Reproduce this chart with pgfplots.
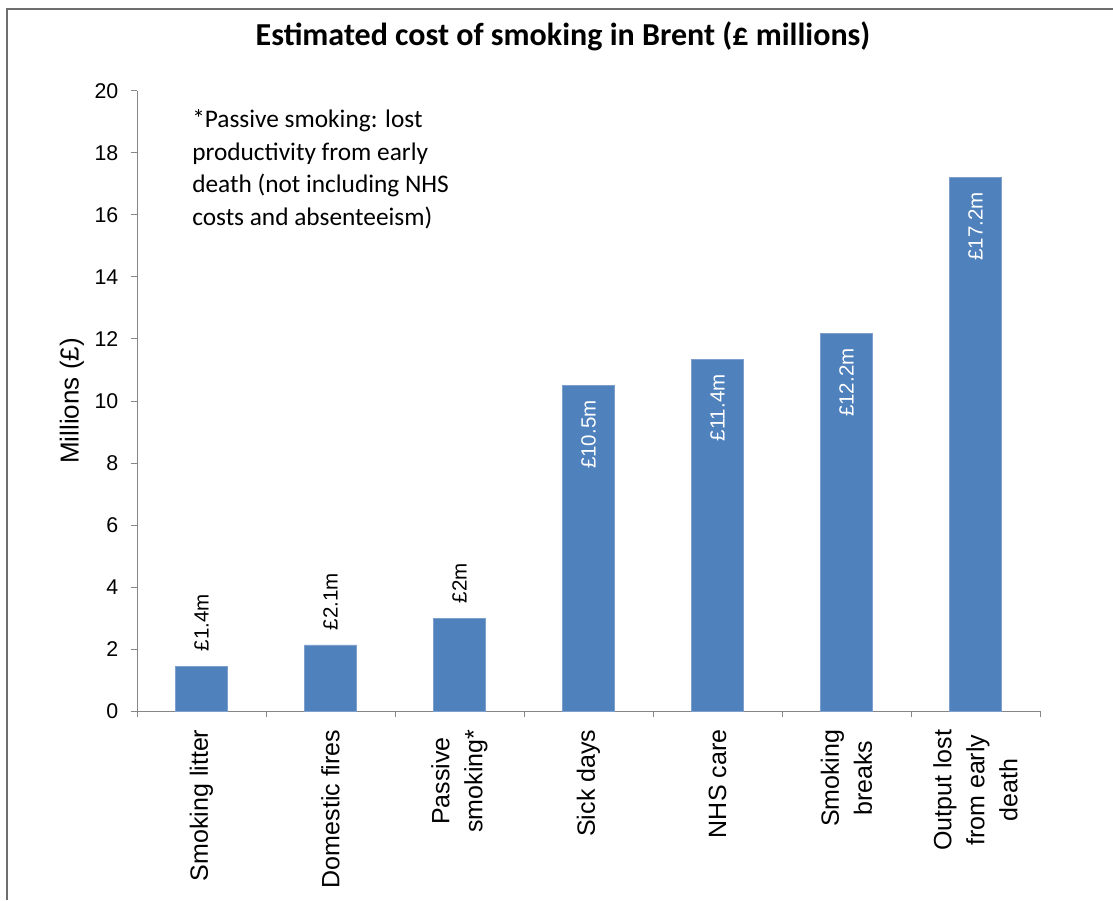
\documentclass[border=0pt]{standalone}
\usepackage{pgfplots}
\pgfplotsset{compat=1.18}
\usepackage{pgfplotstable}
\usepackage{fontspec}
\setmainfont{Liberation Sans}
\newfontfamily\calibri{Carlito}
\definecolor{barblue}{HTML}{4F81BD}
\definecolor{baredge}{HTML}{7E9FCB}
\definecolor{axgray}{HTML}{868686}
\definecolor{framegray}{HTML}{6E6E6E}

\pgfplotstableread{
x y
0 1.45
1 2.13
2 3.00
3 10.50
4 11.34
5 12.18
6 17.22
}\bars
\pgfplotstableread{
x y label
0 1.45 {£1.4m}
1 2.13 {£2.1m}
2 3.00 {£2m}
}\lowlabels
\pgfplotstableread{
x y label
3 10.50 {£10.5m}
4 11.34 {£11.4m}
5 12.18 {£12.2m}
6 17.22 {£17.2m}
}\highlabels

\begin{document}
\begin{tikzpicture}
\useasboundingbox (0,0) rectangle (834.75pt,675pt);
\draw[framegray, line width=1.4pt] (5.25pt,0pt) -- (5.25pt,668.5pt);
\draw[framegray, line width=1.4pt] (4.55pt,668.5pt) -- (834.75pt,668.5pt);
\node[anchor=base, font={\calibri\bfseries\fontsize{24pt}{29pt}\selectfont}] at (422.25pt,640.5pt) {Estimated cost of smoking in Brent (£ millions)};
\begin{axis}[
  at={(102.75pt,141.75pt)}, anchor=south west,
  scale only axis, width=677.25pt, height=465pt,
  xmin=-0.5, xmax=6.5, ymin=0, ymax=20,
  axis lines*=left,
  axis line style={axgray, line width=0.75pt},
  tick style={axgray, line width=0.75pt},
  major tick length=4.5pt, tick align=outside,
  ytick={0,2,...,20},
  xtick={-0.5,0.5,...,6.5},
  xticklabels={},
  extra x ticks={0,1,2,3,4,5,6},
  extra x tick labels={Smoking litter, Domestic fires, {Passive\\smoking*}, Sick days, NHS care, {Smoking\\breaks}, {Output lost\\from early\\death}},
  extra x tick style={tick style={draw=none}},
  xticklabel shift=6pt,
  yticklabel shift=6pt,
  /pgf/number format/assume math mode=true,
  yticklabel style={font=\fontsize{16pt}{19pt}\selectfont, text=black},
  xticklabel style={rotate=90, anchor=east, align=center, font=\fontsize{18.75pt}{24.75pt}\selectfont, text=black},
  ylabel={Millions (£)},
  ylabel style={font=\fontsize{19.5pt}{23pt}\selectfont, at={(axis description cs:-0.072,0.5)}, anchor=center},
  clip=false,
]
\addplot[ybar, bar width=39pt, fill=barblue, draw=baredge, line width=0.4pt] table[x=x, y=y] {\bars};
\addplot[draw=none, mark=none, nodes near coords, point meta=explicit symbolic,
  every node near coord/.append style={rotate=90, anchor=west, inner xsep=11pt, text=black, font=\fontsize{15.4pt}{18pt}\selectfont}]
  table[x=x, y=y, meta=label] {\lowlabels};
\addplot[draw=none, mark=none, nodes near coords, point meta=explicit symbolic,
  every node near coord/.append style={rotate=90, anchor=east, inner xsep=11pt, text=white, font=\fontsize{15.4pt}{18pt}\selectfont}]
  table[x=x, y=y, meta=label] {\highlabels};
\end{axis}
\node[anchor=base west, inner sep=0pt, font={\calibri\fontsize{19pt}{24pt}\selectfont}] at (144pt,579pt) {*Passive smoking: lost};
\node[anchor=base west, inner sep=0pt, font={\calibri\fontsize{19pt}{24pt}\selectfont}] at (144pt,554.625pt) {productivity from early};
\node[anchor=base west, inner sep=0pt, font={\calibri\fontsize{19pt}{24pt}\selectfont}] at (144pt,530.25pt) {death (not including NHS};
\node[anchor=base west, inner sep=0pt, font={\calibri\fontsize{19pt}{24pt}\selectfont}] at (144pt,505.875pt) {costs and absenteeism)};
\end{tikzpicture}
\end{document}
